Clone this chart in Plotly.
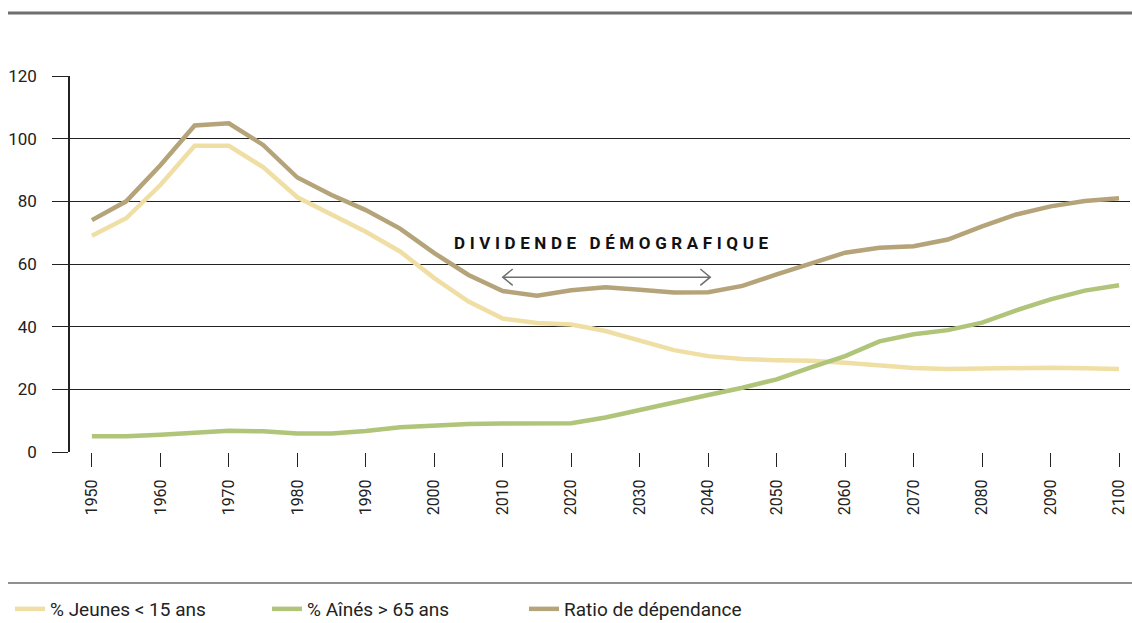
import plotly.graph_objects as go

# data (every 5 years)
years = list(range(1950, 2101, 5))
jeunes = [69, 74.6, 85.2, 97.7, 97.7, 90.9, 81.3, 75.6, 70.3, 64, 55.5, 48, 42.6, 41.2, 40.7,
          38.6, 35.5, 32.5, 30.6, 29.7, 29.3, 29.1, 28.5, 27.5, 26.8, 26.5, 26.7, 26.9, 26.9, 26.7, 26.5]
aines = [5, 5, 5.5, 6.3, 6.8, 6.6, 5.9, 5.9, 6.7, 7.9, 8.5, 8.9, 9.1, 9.2, 9.2,
         11, 13.5, 16, 18.2, 20.5, 23.2, 27, 30.6, 35.3, 37.6, 38.9, 41.3, 45.2, 48.7, 51.5, 53.2]
ratio = [74, 80, 91.5, 104.2, 104.9, 98, 87.6, 82, 77.2, 71.3, 63.5, 56.5, 51.4, 49.9, 51.6,
         52.6, 51.8, 50.9, 51, 53, 56.7, 60, 63.6, 65.2, 65.7, 67.8, 72, 75.8, 78.4, 80.1, 81]

series_names = ["% Jeunes < 15 ans", "% Aînés > 65 ans", "Ratio de dépendance"]
series_colors = ["#f0dfa4", "#b0c47a", "#b5a47a"]

x_ticks = list(range(1950, 2101, 10))
y_ticks = [0, 20, 40, 60, 80, 100, 120]

# annotation: demographic dividend window
dividend_label = "DIVIDENDE DÉMOGRAFIQUE"
dividend_start, dividend_end, dividend_level = 2010, 2040.3, 55.8

FONT = "Roboto, 'DejaVu Sans', sans-serif"
W, H = 1132, 623
ML, MR, MT, MB = 70, 2, 76, 171

fig = go.Figure()
for name, vals, col in zip(series_names, [jeunes, aines, ratio], series_colors):
    fig.add_trace(go.Scatter(x=years, y=vals, name=name, mode="lines",
                             line=dict(color=col, width=4.5), hoverinfo="x+y+name"))

# double arrow
fig.add_shape(type="line", x0=dividend_start, x1=dividend_end, y0=dividend_level, y1=dividend_level,
              xref="x", yref="y", line=dict(color="#6e6e6e", width=1.5))
dx, dy = 1.45, 2.6
fig.add_shape(type="path", xref="x", yref="y", line=dict(color="#6e6e6e", width=1.5),
              path=f"M{dividend_start + dx},{dividend_level + dy} L{dividend_start},{dividend_level} "
                   f"L{dividend_start + dx},{dividend_level - dy}")
fig.add_shape(type="path", xref="x", yref="y", line=dict(color="#6e6e6e", width=1.5),
              path=f"M{dividend_end - dx},{dividend_level + dy} L{dividend_end},{dividend_level} "
                   f"L{dividend_end - dx},{dividend_level - dy}")
fig.add_annotation(x=2026.2, y=dividend_level + 11, xref="x", yref="y",
                   text=f"<b><span style='letter-spacing:4.6px'>{dividend_label}</span></b>",
                   showarrow=False, font=dict(family=FONT, size=17, color="#111111"))

# top and bottom rules
pw, ph = W - ML - MR, H - MT - MB
def px_x(p):
    return (p - ML) / pw
def px_y(p):
    return (H - MB - p) / ph
fig.add_shape(type="line", xref="paper", yref="paper", x0=px_x(8), x1=px_x(1132),
              y0=px_y(13), y1=px_y(13), line=dict(color="#6f6f6f", width=3))
fig.add_shape(type="line", xref="paper", yref="paper", x0=px_x(8), x1=px_x(1132),
              y0=px_y(583), y1=px_y(583), line=dict(color="#222222", width=1.2))

fig.update_layout(
    width=W, height=H,
    margin=dict(l=ML, r=MR, t=MT, b=MB),
    plot_bgcolor="white", paper_bgcolor="white",
    font=dict(family=FONT, size=15, color="#222222"),
    showlegend=True,
    legend=dict(orientation="h", xref="container", yref="container", x=10 / W, y=1 - 609 / H,
                xanchor="left", yanchor="middle", entrywidth=212, font=dict(size=19, color="#222222"),
                bgcolor="rgba(0,0,0,0)"),
)
fig.update_xaxes(range=[1946.8, 2101.6], tickvals=x_ticks, tickangle=-90,
                 ticks="outside", ticklen=14, tickcolor="#222222", tickwidth=1.2,
                 ticklabelstandoff=6,
                 showgrid=False, zeroline=False, showline=False,
                 tickfont=dict(size=16, color="#222222"))
fig.update_yaxes(range=[0, 120], tickvals=y_ticks, ticks="outside", ticklen=16,
                 tickcolor="#222222", tickwidth=1.2, ticklabelstandoff=12,
                 showgrid=True, gridcolor="#222222", gridwidth=1.2,
                 zeroline=False, showline=True, linecolor="#222222", linewidth=1.5,
                 tickfont=dict(size=17, color="#222222"))

fig.write_html("out.html", config={"displayModeBar": False},
               post_script="document.body.style.margin='0px';")
